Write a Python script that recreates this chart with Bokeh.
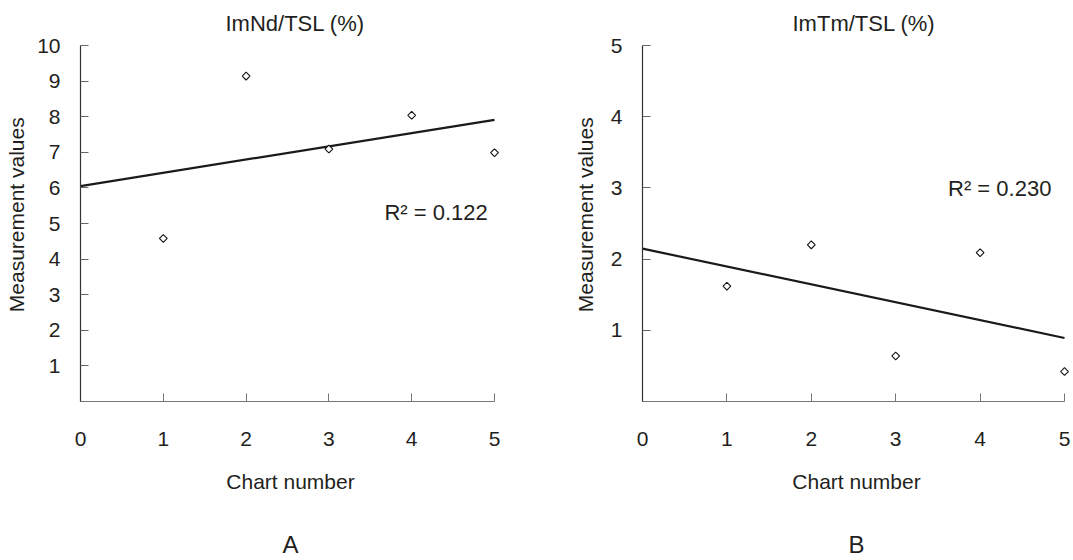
import numpy as np
from bokeh.plotting import figure
from bokeh.layouts import row
from bokeh.models import Range1d, FixedTicker, Label, Title, LinearAxis
from bokeh.embed import file_html
from bokeh.resources import INLINE

# ---------------- data ----------------
chart_number = [1, 2, 3, 4, 5]
imnd_tsl = [4.58, 9.14, 7.09, 8.04, 6.99]
imtm_tsl = [1.62, 2.20, 0.64, 2.09, 0.42]
x_ticks = [0, 1, 2, 3, 4, 5]
y_ticks_a = [1, 2, 3, 4, 5, 6, 7, 8, 9, 10]
y_ticks_b = [1, 2, 3, 4, 5]
titles = ["ImNd/TSL (%)", "ImTm/TSL (%)"]
r2_texts = ["R\u00b2 = 0.122", "R\u00b2 = 0.230"]
panel_letters = ["A", "B"]
x_title = "Chart number"
y_title = "Measurement values"

FONT = "Liberation Sans"
INK = "#231f20"
Y_TITLE_PAD = "\u00a0\u00a0\u00a0"   # nudges the rotated y title slightly upward


def make_panel(values, y_ticks, title, r2, letter, cfg):
    p = figure(
        width=cfg["width"], height=cfg["height"],
        x_range=Range1d(x_ticks[0], cfg["x_end"]),
        y_range=Range1d(0, y_ticks[-1]),
        output_backend="svg", toolbar_location=None,
        min_border_left=cfg["bl"], min_border_right=cfg["br"],
        min_border_top=cfg["bt"], min_border_bottom=cfg["bb"],
    )
    p.outline_line_color = None
    p.background_fill_color = "white"
    p.border_fill_color = "white"
    p.xgrid.visible = False
    p.ygrid.visible = False

    # title above the plot
    p.add_layout(Title(text=title, align="left", offset=cfg["title_offset"],
                       vertical_align="top", standoff=16,
                       text_font=FONT, text_font_size="22px",
                       text_font_style="normal", text_color=INK), "above")

    # x axis
    xa = p.xaxis[0]
    xa.ticker = FixedTicker(ticks=x_ticks)
    xa.bounds = (x_ticks[0], x_ticks[-1])
    xa.axis_line_color = "#777777"
    xa.axis_line_width = 1.2
    xa.major_tick_line_color = "#777777"
    xa.major_tick_in = 8
    xa.major_tick_out = 0
    xa.minor_tick_line_color = None
    xa.major_label_standoff = 30
    xa.major_label_text_font = FONT
    xa.major_label_text_font_size = "21px"
    xa.major_label_text_color = INK
    xa.axis_label = x_title
    xa.axis_label_standoff = 21
    xa.axis_label_text_font = FONT
    xa.axis_label_text_font_size = "21px"
    xa.axis_label_text_font_style = "normal"
    xa.axis_label_text_color = INK

    # panel letter (A / B) under the axis title
    la = LinearAxis(ticker=FixedTicker(ticks=[]), axis_label=letter,
                    axis_line_color=None, major_tick_line_color=None,
                    minor_tick_line_color=None, major_tick_out=0, major_tick_in=0,
                    major_label_standoff=0, major_label_text_font_size="0px",
                    axis_label_standoff=35, axis_label_text_font=FONT,
                    axis_label_text_font_size="24px", axis_label_text_font_style="normal",
                    axis_label_text_color=INK)
    p.add_layout(la, "below")

    # y axis
    ya = p.yaxis[0]
    ya.ticker = FixedTicker(ticks=y_ticks)
    ya.bounds = (0, y_ticks[-1])
    ya.axis_line_color = "#333333"
    ya.axis_line_width = 1.2
    ya.major_tick_line_color = "#666666"
    ya.major_tick_in = 8
    ya.major_tick_out = 0
    ya.minor_tick_line_color = None
    ya.major_label_standoff = 20
    ya.major_label_text_font = FONT
    ya.major_label_text_font_size = "21px"
    ya.major_label_text_color = INK
    ya.axis_label = Y_TITLE_PAD + y_title
    ya.axis_label_standoff = cfg["ylab_standoff"]
    ya.axis_label_text_font = FONT
    ya.axis_label_text_font_size = "21px"
    ya.axis_label_text_font_style = "normal"
    ya.axis_label_text_color = INK

    # linear trend line (least squares) across the full axis
    slope, intercept = np.polyfit(chart_number, values, 1)
    xs = [x_ticks[0], x_ticks[-1]]
    p.line(xs, [intercept + slope * x for x in xs], line_color="#1a1a1a", line_width=2.2)

    # data points: small open diamonds
    p.scatter(chart_number, values, marker="square", size=5.5, angle=np.pi / 4,
              fill_color="white", line_color="#111111", line_width=1.1)

    # R^2 annotation
    p.add_layout(Label(x=cfg["r2_x"], y=cfg["r2_y"], text=r2,
                       text_align="left", text_baseline="middle",
                       text_font=FONT, text_font_size="22px", text_color=INK))
    return p


cfg_a = dict(width=540, height=560, x_end=5.0725,
             bl=80, br=40, bt=45, bb=157, ylab_standoff=6,
             title_offset=145, r2_x=3.671, r2_y=5.31)
cfg_b = dict(width=533, height=560, x_end=5.071,
             bl=102, br=3, bt=43, bb=159, ylab_standoff=11,
             title_offset=150, r2_x=3.62, r2_y=2.99)

pa = make_panel(imnd_tsl, y_ticks_a, titles[0], r2_texts[0], panel_letters[0], cfg_a)
pb = make_panel(imtm_tsl, y_ticks_b, titles[1], r2_texts[1], panel_letters[1], cfg_b)

layout = row(pa, pb)
open("out.html", "w").write(file_html(layout, INLINE))
